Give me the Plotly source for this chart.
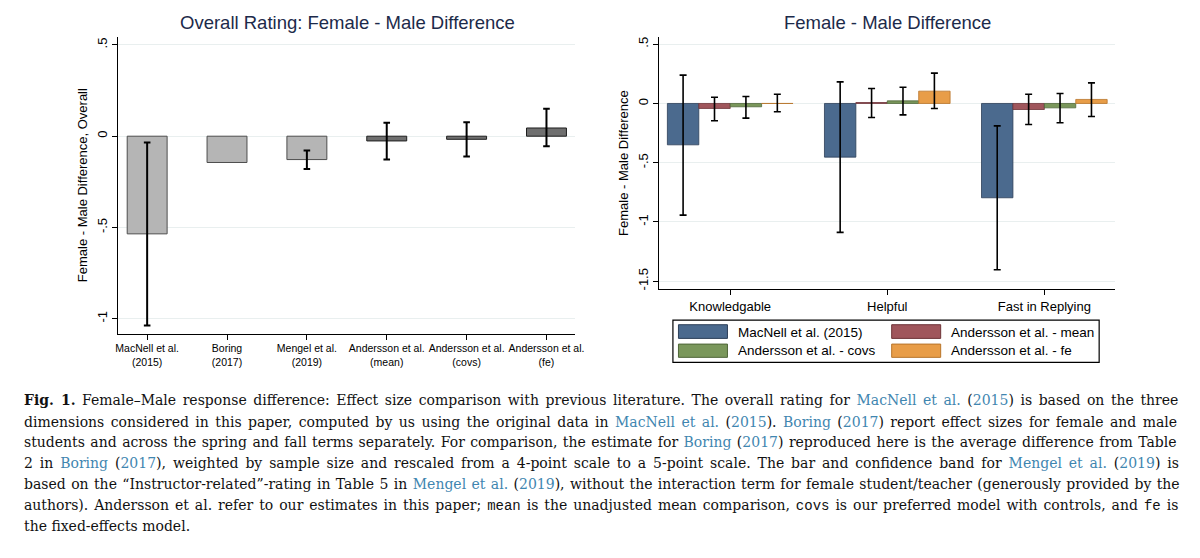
import plotly.graph_objects as go

# the page body keeps its default 8px margin, so the figure is sized to fit the
# 1200x558 window and all layout positions below are given in window pixels
OFF = 8
W, H = 1200 - 2 * OFF, 558 - 2 * OFF

# left panel - overall rating
studies = ["MacNell et al.<br>(2015)", "Boring<br>(2017)", "Mengel et al.<br>(2019)",
           "Andersson et al.<br>(mean)", "Andersson et al.<br>(covs)", "Andersson et al.<br>(fe)"]
overall_diff = [-0.535, -0.144, -0.128, -0.026, -0.017, 0.045]
overall_lo = [-1.037, None, -0.179, -0.128, -0.111, -0.055]
overall_hi = [-0.035, None, -0.079, 0.074, 0.076, 0.151]
own_estimate = [False, False, False, True, True, True]

# right panel - per dimension
dimensions = ["Knowledgable", "Helpful", "Fast in Replying"]
series_names = ["MacNell et al. (2015)", "Andersson et al. - mean",
                "Andersson et al. - covs", "Andersson et al. - fe"]
macnell_diff = [-0.349, -0.453, -0.796]
macnell_lo = [-0.942, -1.088, -1.403]
macnell_hi = [0.239, 0.182, -0.189]
mean_diff = [-0.042, 0.008, -0.051]
mean_lo = [-0.146, -0.118, -0.177]
mean_hi = [0.053, 0.126, 0.078]
covs_diff = [-0.028, 0.022, -0.037]
covs_lo = [-0.124, -0.096, -0.163]
covs_hi = [0.059, 0.137, 0.084]
fe_diff = [0.0, 0.104, 0.034]
fe_lo = [-0.070, -0.042, -0.110]
fe_hi = [0.078, 0.256, 0.174]

y_ticks_left = [-1, -0.5, 0, 0.5]
y_ticks_right = [-1.5, -1, -0.5, 0, 0.5]
y_labels_left = ["-1", "-.5", "0", ".5"]
y_labels_right = ["-1.5", "-1", "-.5", "0", ".5"]

series_colors = ["#4b6a8e", "#a0565c", "#7a975b", "#e89d48"]
series_edges = ["#2c3f58", "#6e3438", "#4f6638", "#b8742a"]
SANS = "Liberation Sans, Arial, sans-serif"
LINK = "#3f86b0"


def px(x):
    return (x - OFF) / W


def py(y):
    return 1 - (y - OFF) / H


fig = go.Figure()

# overall panel: bars with a CI get error bars, Boring has none
for has_ci in (True, False):
    idx = [i for i in range(len(studies)) if (overall_lo[i] is not None) == has_ci]
    xs = [studies[i] for i in idx]
    ys = [overall_diff[i] for i in idx]
    fills = ["#6f6f6f" if own_estimate[i] else "#b5b5b5" for i in idx]
    edges = ["#1e1e1e" if own_estimate[i] else "#4d4d4d" for i in idx]
    err = None
    if has_ci:
        err = dict(type="data", symmetric=False,
                   array=[overall_hi[i] - overall_diff[i] for i in idx],
                   arrayminus=[overall_diff[i] - overall_lo[i] for i in idx],
                   color="black", thickness=2, width=3.3)
    fig.add_trace(go.Bar(
        x=xs, y=ys, width=0.5, offsetgroup="overall",
        marker=dict(color=fills, line=dict(color=edges, width=1)),
        error_y=err, showlegend=False, xaxis="x", yaxis="y",
    ))

right = [
    (macnell_diff, macnell_lo, macnell_hi),
    (mean_diff, mean_lo, mean_hi),
    (covs_diff, covs_lo, covs_hi),
    (fe_diff, fe_lo, fe_hi),
]
for i, (d, lo, hi) in enumerate(right):
    fig.add_trace(go.Bar(
        x=dimensions, y=d, name=series_names[i],
        marker=dict(color=series_colors[i], line=dict(color=series_edges[i], width=0.8)),
        error_y=dict(type="data", symmetric=False,
                     array=[h - v for v, h in zip(d, hi)],
                     arrayminus=[v - l for v, l in zip(d, lo)],
                     color="black", thickness=1.6, width=3.5),
        showlegend=False, xaxis="x2", yaxis="y2",
    ))

axis_common = dict(showline=True, linecolor="black", linewidth=1, ticks="outside",
                   ticklen=5, tickcolor="black", zeroline=False)

fig.update_layout(
    width=W, height=H,
    margin=dict(l=0, r=0, t=0, b=0),
    paper_bgcolor="white", plot_bgcolor="white",
    barmode="group", bargap=0.2, bargroupgap=0,
    xaxis=dict(domain=[px(116.5), px(578)], range=[-0.36, 5.36], showgrid=False,
               categoryorder="array", categoryarray=studies,
               tickfont=dict(family=SANS, color="black", size=10.5), **axis_common),
    yaxis=dict(domain=[py(334.3), py(36.7)], range=[-1.082, 0.5454],
               tickvals=y_ticks_left, ticktext=y_labels_left, tickangle=-90,
               showgrid=True, gridcolor="#e9efef", gridwidth=1,
               tickfont=dict(family=SANS, color="black", size=13),
               title=dict(text="Female - Male Difference, Overall",
                          font=dict(family=SANS, size=13, color="black"), standoff=4),
               **axis_common),
    xaxis2=dict(domain=[px(662.7), px(1123.8)], range=[-0.453, 2.453], showgrid=False,
                anchor="y2", tickfont=dict(family=SANS, color="black", size=13),
                **axis_common),
    yaxis2=dict(domain=[py(290), py(36.7)], range=[-1.57, 0.564], anchor="x2",
                tickvals=y_ticks_right, ticktext=y_labels_right, tickangle=-90,
                showgrid=True, gridcolor="#e9efef", gridwidth=1,
                tickfont=dict(family=SANS, color="black", size=13),
                title=dict(text="Female - Male Difference",
                           font=dict(family=SANS, size=13, color="black"), standoff=4),
                **axis_common),
)

# panel titles
for text, cx in [("Overall Rating: Female - Male Difference", 348),
                 ("Female - Male Difference", 893)]:
    fig.add_annotation(text=text, x=px(cx), y=py(23), xref="paper", yref="paper",
                       showarrow=False, xanchor="center", yanchor="middle",
                       font=dict(family=SANS, size=18.5, color="#1c2a4a"))

# legend box for right panel, stata style
fig.add_shape(type="rect", xref="paper", yref="paper",
              x0=px(676.7), x1=px(1107.3), y0=py(363), y1=py(320.7),
              line=dict(color="black", width=1.2), fillcolor="white")
swatch_x = [682.3, 897.7, 682.3, 897.7]
text_x = [740, 955.7, 740, 955.7]
row_y = [(325.3, 339, 333), (325.3, 339, 333), (344.7, 358, 351.3), (344.7, 358, 351.3)]
for i, name in enumerate(series_names):
    top, bot, mid = row_y[i]
    fig.add_shape(type="rect", xref="paper", yref="paper",
                  x0=px(swatch_x[i]), x1=px(swatch_x[i] + 49.5), y0=py(bot), y1=py(top),
                  line=dict(color=series_edges[i], width=1), fillcolor=series_colors[i])
    fig.add_annotation(text=name, x=px(text_x[i]), y=py(mid), xref="paper", yref="paper",
                       showarrow=False, xanchor="left", yanchor="middle",
                       font=dict(family=SANS, size=13.5, color="black"))


def link(s):
    return f"<span style='color:{LINK}'>{s}</span>"


def mono(s):
    return f"<span style='font-family:Liberation Mono, DejaVu Sans Mono, monospace'>{s}</span>"


caption = [
    "<b>Fig. 1.</b> Female–Male response difference: Effect size comparison with previous literature. "
    f"The overall rating for {link('MacNell et al.')} ({link('2015')}) is based on the three",
    f"dimensions considered in this paper, computed by us using the original data in {link('MacNell et al.')} "
    f"({link('2015')}). {link('Boring')} ({link('2017')}) report effect sizes for female and male",
    "students and across the spring and fall terms separately. For comparison, the estimate for "
    f"{link('Boring')} ({link('2017')}) reproduced here is the average difference from Table",
    f"2 in {link('Boring')} ({link('2017')}), weighted by sample size and rescaled from a 4-point scale "
    f"to a 5-point scale. The bar and confidence band for {link('Mengel et al.')} ({link('2019')}) is",
    f"based on the “Instructor-related”-rating in Table 5 in {link('Mengel et al.')} ({link('2019')}), "
    "without the interaction term for female student/teacher (generously provided by the",
    f"authors). Andersson et al. refer to our estimates in this paper; {mono('mean')} is the unadjusted "
    f"mean comparison, {mono('covs')} is our preferred model with controls, and {mono('fe')} is",
    "the fixed-effects model.",
]
caption_y = [400.7, 422.3, 443.3, 464, 485.3, 506, 526.7]
# extra word spacing (px) so the lines come out roughly justified
caption_spacing = [2.1, 2.0, 1.0, 2.45, 0.95, 1.5, 0]
for line, yy, ws in zip(caption, caption_y, caption_spacing):
    fig.add_annotation(text=f"<span style='word-spacing:{ws}px'>{line}</span>",
                       x=px(19), y=py(yy), xref="paper", yref="paper",
                       showarrow=False, xanchor="left", yanchor="middle", align="left",
                       font=dict(family="DejaVu Serif, serif", size=14, color="#111111"))

fig.write_html("out.html")
